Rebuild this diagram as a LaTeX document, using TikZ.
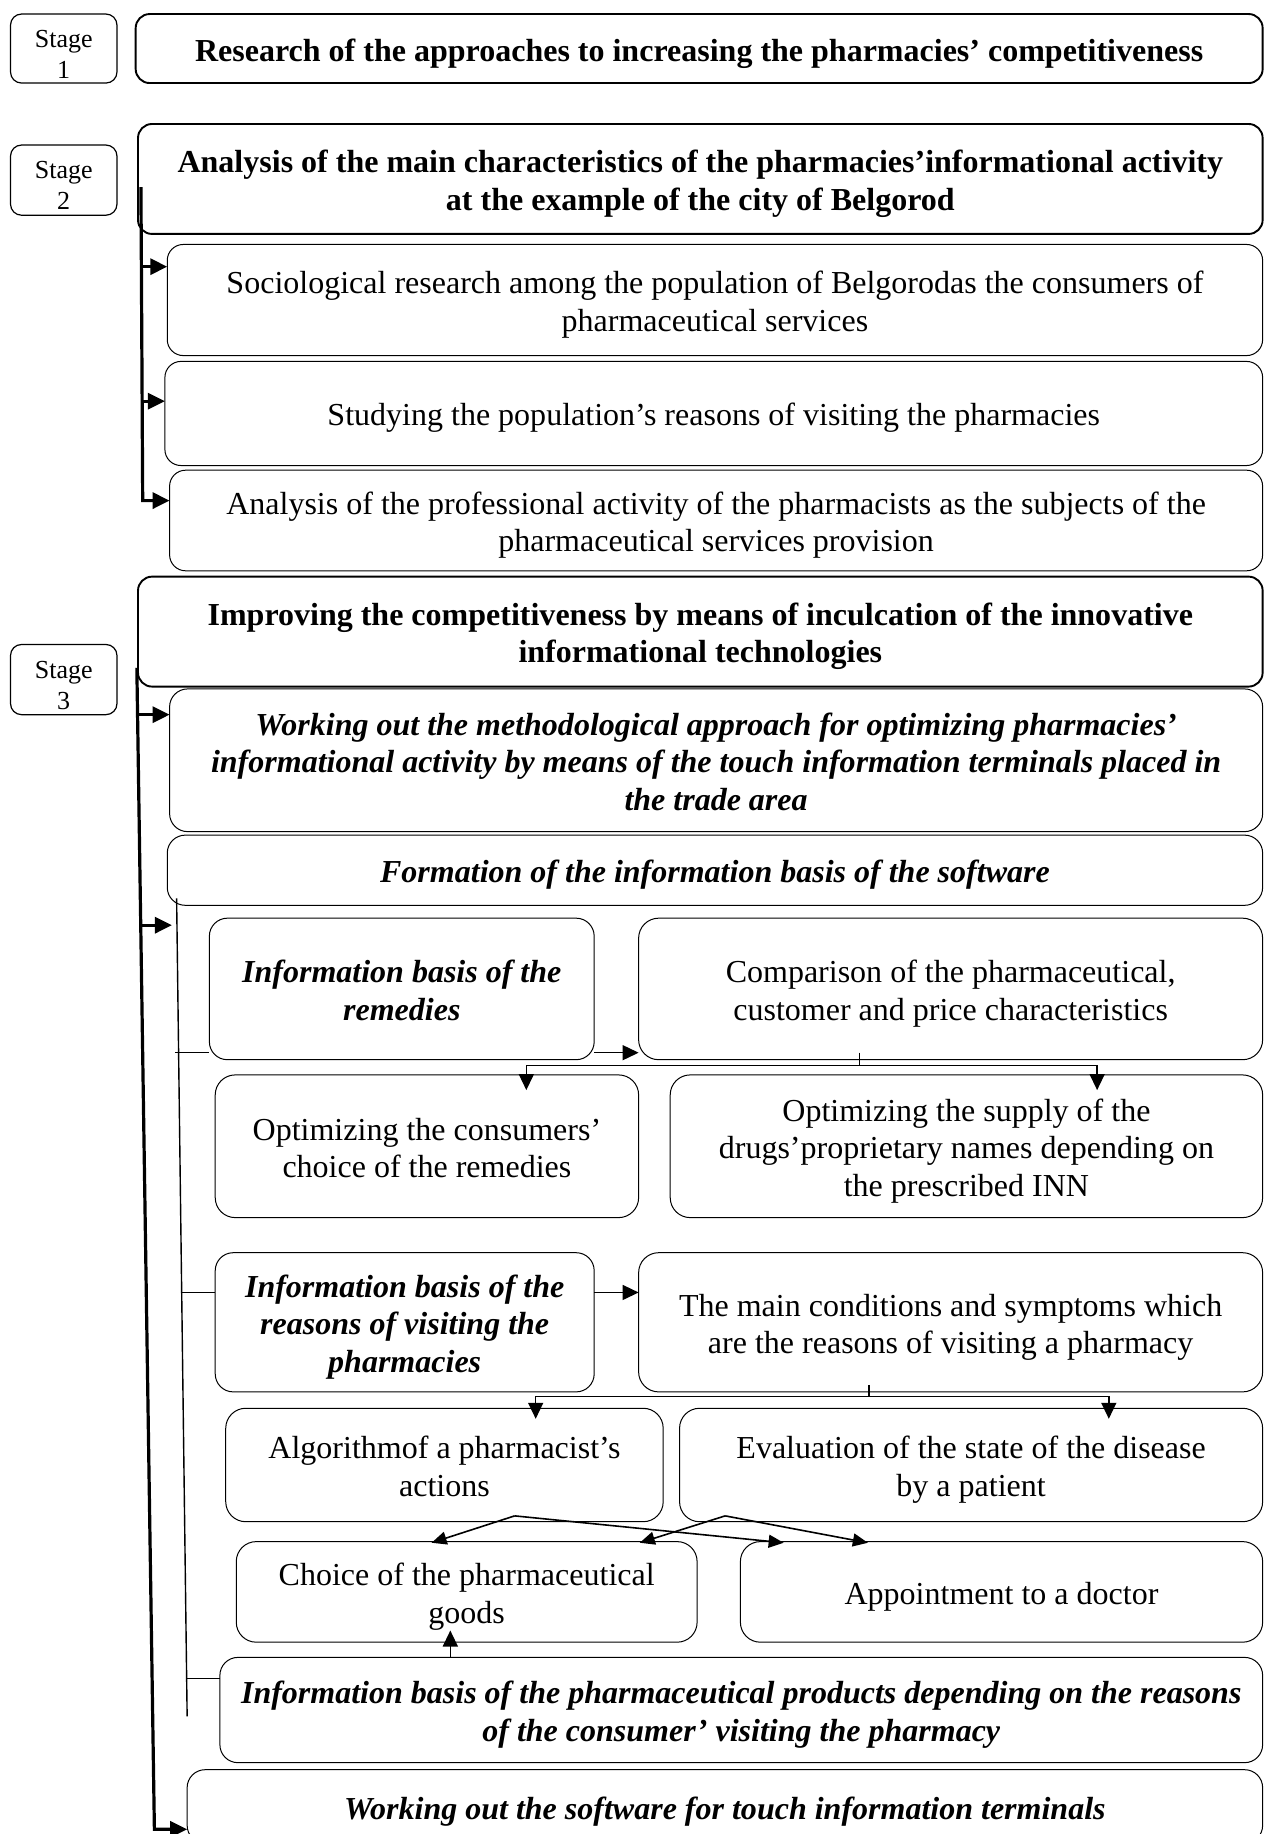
\documentclass[tikz,border=0pt]{standalone}
\usepackage{fontspec}
\setmainfont{Liberation Serif}
\usetikzlibrary{arrows.meta,calc}
\tikzset{
  base/.style={draw, rounded corners=14pt, inner sep=0pt, outer sep=0pt, align=center, font=\fontsize{32}{37.4}\selectfont},
  thickbox/.style={base, line width=1.9pt, font=\fontsize{32}{37.4}\selectfont\bfseries},
  plainbox/.style={base, line width=1pt, rounded corners=20pt},
  widebox/.style={base, line width=1pt, rounded corners=16pt},
  itbox/.style={base, line width=1pt, rounded corners=18pt, font=\fontsize{32}{37.4}\selectfont\bfseries\itshape},
  stagebox/.style={draw, rounded corners=11pt, line width=1.2pt, inner sep=0pt, outer sep=0pt, align=center, font=\fontsize{26}{31}\selectfont},
  bigarr/.style={line width=3.2pt, line join=miter, -{Triangle[length=17pt,width=16pt]}},
  arr/.style={line width=1.4pt, -{Triangle[length=16pt,width=15pt]}},
  xarr/.style={line width=1.6pt, -{Triangle[length=15pt,width=13pt]}},
  ln/.style={line width=1.4pt},
}
\newcommand\mybox[7]{\node[#6, minimum width={(#4-#2)*1.1693pt}, minimum height={(#5-#3)*1.1693pt}] (#1) at ({(#2+#4)/2},{(#3+#5)/2}) {#7};}
\newcommand\tx[2]{\raisebox{#1}[\height][\depth]{\begin{tabular}{@{}c@{}}#2\end{tabular}}}
\newcommand\mt[1]{\tx{-5pt}{#1}}
\begin{document}
\begin{tikzpicture}[x=1.1693pt,y=-1.1693pt]
\fill[white] (0,0) rectangle (1081,1568);
\useasboundingbox (0,0) rectangle (1081,1568);
% stage 1
\mybox{s1}{9}{12}{100}{71}{stagebox}{\tx{-8pt}{Stage\\1}}
\mybox{b1}{116}{12}{1079.5}{71}{thickbox}{\mt{Research of the approaches to increasing the pharmacies’ competitiveness}}
% stage 2
\mybox{s2}{9}{124}{100}{184}{stagebox}{\tx{-8pt}{Stage\\2}}
\mybox{b2}{118}{106}{1079.5}{200}{thickbox}{\mt{Analysis of the main characteristics of the pharmacies’informational activity\\at the example of the city of Belgorod}}
\mybox{b2a}{143}{209}{1079.5}{304}{widebox}{\mt{Sociological research among the population of Belgorodas the consumers of\\pharmaceutical services}}
\mybox{b2b}{141}{309}{1079.5}{398}{widebox}{\mt{Studying the population’s reasons of visiting the pharmacies}}
\mybox{b2c}{145}{402}{1079.5}{488}{widebox}{\mt{Analysis of the professional activity of the pharmacists as the subjects of the\\pharmaceutical services provision}}
% stage 3
\mybox{s3}{9}{551}{100}{611}{stagebox}{\tx{-8pt}{Stage\\3}}
\mybox{b3}{118}{493}{1079.5}{587}{thickbox}{\mt{Improving the competitiveness by means of inculcation of the innovative\\informational technologies}}
\mybox{b3a}{145}{589}{1079.5}{711}{itbox}{\mt{Working out the methodological approach for optimizing pharmacies’\\informational activity by means of the touch information terminals placed in\\the trade area}}
\mybox{b3b}{143}{714}{1079.5}{774}{itbox}{\mt{Formation of the information basis of the software}}
\mybox{r1}{179}{785}{508}{906}{itbox}{\mt{Information basis of the\\remedies}}
\mybox{c1}{546}{785}{1079.5}{906}{plainbox}{\mt{Comparison of the pharmaceutical,\\customer and price characteristics}}
\mybox{o1}{184}{919}{546}{1041}{plainbox}{\mt{Optimizing the consumers’\\choice of the remedies}}
\mybox{o2}{573}{919}{1079.5}{1041}{plainbox}{\mt{Optimizing the supply of the\\drugs’proprietary names depending on\\the prescribed INN}}
\mybox{r2}{184}{1071}{508}{1190}{itbox}{\mt{Information basis of the\\reasons of visiting the\\pharmacies}}
\mybox{c2}{546}{1071}{1079.5}{1190}{plainbox}{\mt{The main conditions and symptoms which\\are the reasons of visiting a pharmacy}}
\mybox{al}{193}{1204}{567}{1301}{plainbox}{\mt{Algorithmof a pharmacist’s\\actions}}
\mybox{ev}{581}{1204}{1079.5}{1301}{plainbox}{\mt{Evaluation of the state of the disease\\by a patient}}
\mybox{ch}{202}{1318}{596}{1404}{plainbox}{\mt{Choice of the pharmaceutical\\goods}}
\mybox{ap}{633}{1318}{1079.5}{1404}{plainbox}{\mt{Appointment to a doctor}}
\mybox{ib}{188}{1417}{1079.5}{1507}{itbox}{\mt{Information basis of the pharmaceutical products depending on the reasons\\of the consumer’ visiting the pharmacy}}
\mybox{fin}{160}{1513}{1079.5}{1576}{itbox}{\mt{Working out the software for touch information terminals}}
% stage 2 bracket
\coordinate (t2top) at (120.5,160);
\coordinate (t2bot) at (122,428);
\coordinate (a1) at (121,228);
\coordinate (a2) at (121.5,343);
\draw[bigarr] (t2top) -- (t2bot) -- (t2bot -| b2c.west);
\draw[bigarr] (a1) -- (a1 -| b2a.west);
\draw[bigarr] (a2) -- (a2 -| b2b.west);
% stage 3 bracket
\coordinate (t3top) at (117,571);
\coordinate (t3bot) at (132,1564);
\coordinate (a4) at (117.6,611);
\coordinate (a5) at (120.3,791);
\coordinate (a5e) at (147,791);
\draw[bigarr] (t3top) -- (t3bot) -- (t3bot -| fin.west);
\draw[bigarr] (a4) -- (a4 -| b3a.west);
\draw[bigarr] (a5) -- (a5e);
% inner line
\coordinate (itop) at (151,768);
\coordinate (ibot) at (160,1467.5);
\coordinate (i1) at (150,900);
\coordinate (i2) at (155,1105);
\coordinate (i3) at (159.6,1435);
\draw[ln] (itop) -- (ibot);
\draw[ln] (i1) -- (i1 -| r1.west);
\draw[ln] (i2) -- (i2 -| r2.west);
\draw[ln] (i3) -- (i3 -| ib.west);
% remedies -> comparison
\draw[arr] (r1.east |- i1) -- (c1.west |- i1);
\coordinate (k1) at (735,911);
\coordinate (o1t) at (450,932);
\coordinate (o2t) at (938,932);
\draw[ln] ([yshift=7pt]k1 |- c1.south) -- (k1);
\draw[arr] (k1) -| (o1t);
\draw[arr] (k1) -| (o2t);
% reasons -> conditions
\draw[arr] (r2.east |- i2) -- (c2.west |- i2);
\coordinate (k2) at (743,1194);
\coordinate (alt) at (458,1213);
\coordinate (evt) at (948,1213);
\draw[ln] ([yshift=7pt]k2 |- c2.south) -- (k2);
\draw[arr] (k2) -| (alt);
\draw[arr] (k2) -| (evt);
% crossing arrows
\coordinate (p1) at (440,1296);
\coordinate (p2) at (620,1296);
\coordinate (q1) at (369,1319);
\coordinate (q2) at (670,1319);
\coordinate (q3) at (547,1319);
\coordinate (q4) at (742,1319);
\draw[xarr] (p1) -- (q1);
\draw[xarr] (p1) -- (q2);
\draw[xarr] (p2) -- (q3);
\draw[xarr] (p2) -- (q4);
% up arrow
\coordinate (u1) at (385,1394);
\draw[arr] (ib.north -| u1) -- (u1);
\end{tikzpicture}
\end{document}
